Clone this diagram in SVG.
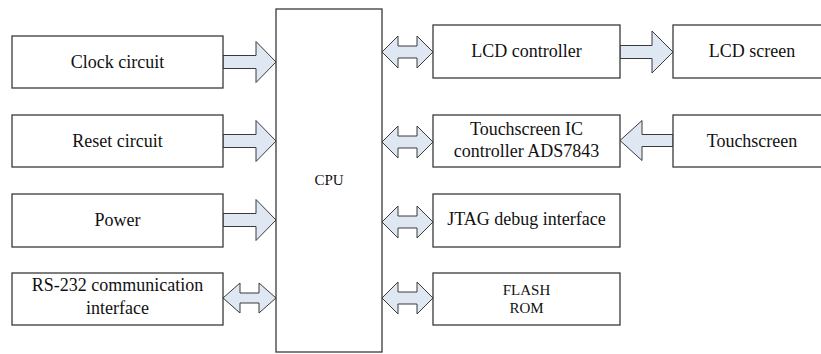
<svg xmlns="http://www.w3.org/2000/svg" width="821" height="354" viewBox="0 0 821 354">
<style>
.box{fill:#fff;stroke:#3a3a3a;stroke-width:1.3}
.t{font-family:"Liberation Serif","Times New Roman",serif;font-size:18px;fill:#111;text-anchor:middle}
.s{font-family:"Liberation Serif","Times New Roman",serif;font-size:15px;fill:#111;text-anchor:middle}
.arr{fill:#dfe7f3;stroke:#3a3a3a;stroke-width:1}
</style>
<rect width="821" height="354" fill="#fff"/>
<g id="connectors">
<path class="arr" d="M223,55.5 H256 V41.5 L276,62 L256,82.5 V68.5 H223 Z"/>
<path class="arr" d="M223,134.5 H256 V120.5 L276,141 L256,161.5 V147.5 H223 Z"/>
<path class="arr" d="M223,213.5 H256 V199.5 L276,220 L256,240.5 V226.5 H223 Z"/>
<path class="arr" d="M223,298 L240,283 V293 H259 V283 L276,298 L259,313 V303 H240 V313 Z"/>
<path class="arr" d="M382,52 L398,36 V46 H417 V36 L433,52 L417,68 V58 H398 V68 Z"/>
<path class="arr" d="M382,142 L398,126 V136 H417 V126 L433,142 L417,158 V148 H398 V158 Z"/>
<path class="arr" d="M382,222 L398,206 V216 H417 V206 L433,222 L417,238 V228 H398 V238 Z"/>
<path class="arr" d="M382,298 L398,282 V292 H417 V282 L433,298 L417,314 V304 H398 V314 Z"/>
<path class="arr" d="M620,45.5 H652 V31 L673,52 L652,73 V58.5 H620 Z"/>
<path class="arr" d="M673,134.5 H642 V120.5 L620,140.5 L642,160.5 V146.5 H673 Z"/>
</g>
<g id="cpu"><rect class="box" x="276" y="9" width="106" height="343"/><text class="s" x="329" y="185">CPU</text></g>
<g id="clock"><rect class="box" x="12" y="36" width="211" height="52"/><text class="t" x="117.5" y="68">Clock circuit</text></g>
<g id="reset"><rect class="box" x="12" y="115" width="211" height="52"/><text class="t" x="117.5" y="147">Reset circuit</text></g>
<g id="power"><rect class="box" x="12" y="194" width="211" height="53"/><text class="t" x="117.5" y="226">Power</text></g>
<g id="rs232"><rect class="box" x="12" y="273" width="211" height="52"/><text class="t" x="117.5" y="291">RS-232 communication</text><text class="t" x="117.5" y="314">interface</text></g>
<g id="lcdctrl"><rect class="box" x="433" y="25" width="187" height="53"/><text class="t" x="526.5" y="57">LCD controller</text></g>
<g id="tsic"><rect class="box" x="433" y="115" width="187" height="52"/><text class="t" x="526.5" y="135">Touchscreen IC</text><text class="t" x="526.5" y="157">controller ADS7843</text></g>
<g id="jtag"><rect class="box" x="433" y="194" width="187" height="53"/><text class="t" x="526.5" y="225">JTAG debug interface</text></g>
<g id="flash"><rect class="box" x="433" y="273" width="187" height="52"/><text class="s" x="526.5" y="295">FLASH</text><text class="s" x="526.5" y="313">ROM</text></g>
<g id="lcdscreen"><rect class="box" x="673" y="25" width="160" height="53"/><text class="t" x="752" y="57">LCD screen</text></g>
<g id="touchscreen"><rect class="box" x="673" y="115" width="160" height="52"/><text class="t" x="752" y="147">Touchscreen</text></g>
</svg>
